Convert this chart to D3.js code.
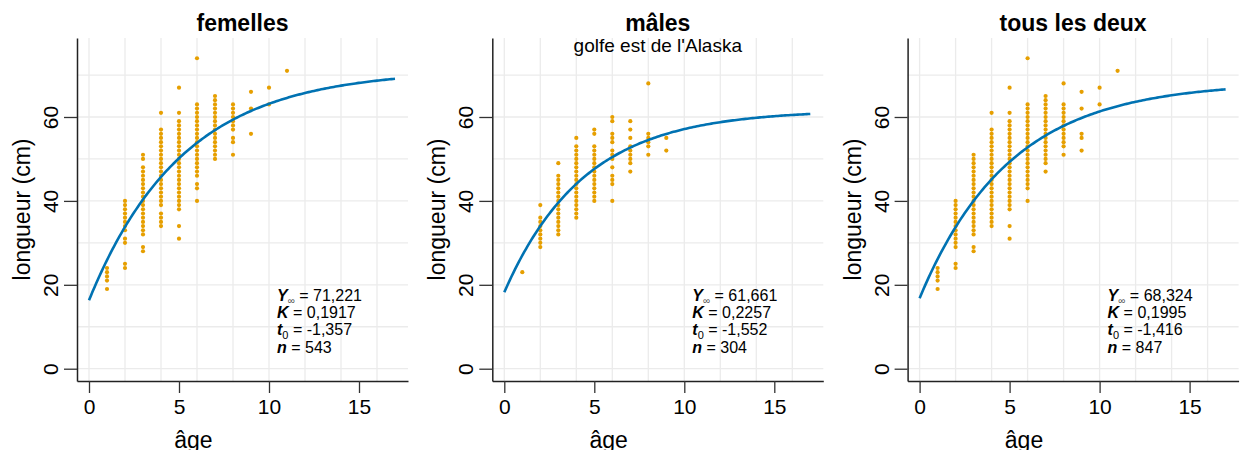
<!DOCTYPE html>
<html>
<head>
<meta charset="utf-8">
<script src="https://cdn.jsdelivr.net/npm/d3@7"></script>
<style>
body { margin: 0; background: #fff; }
text { font-family: "Liberation Sans", Arial, sans-serif; }
</style>
</head>
<body>
<svg id="chart" width="1243" height="450"></svg>
<script>
// ages (années) et longueurs observées (cm) pour chaque âge
var ages = [1, 2, 3, 4, 5, 6, 7, 8, 9, 10, 11];

var femelles = [
  [19, 21, 22, 23, 24],
  [24, 25, 30, 31, 33, 34, 35, 36, 37, 38, 39, 40],
  [28, 29, 32, 33, 34, 35, 36, 37, 38, 39, 40, 41, 42, 43, 44, 45, 46, 47, 48, 50, 51],
  [34, 35, 36, 37, 39, 40, 41, 42, 43, 44, 45, 46, 47, 48, 49, 50, 51, 52, 53, 54, 55, 56, 57, 61],
  [31, 34, 38, 39, 40, 41, 42, 43, 44, 45, 46, 47, 48, 49, 50, 51, 52, 53, 54, 55, 56, 57, 58, 59, 61, 67],
  [40, 43, 44, 46, 47, 48, 49, 50, 51, 52, 53, 54, 55, 56, 57, 58, 59, 60, 61, 62, 63, 74],
  [50, 51, 52, 53, 54, 55, 56, 57, 58, 59, 60, 61, 62, 63, 64, 65],
  [51, 54, 55, 57, 58, 59, 60, 61, 62, 63],
  [56, 62, 66],
  [63, 67],
  [71]
];

var males = [
  [23],
  [29, 30, 31, 32, 33, 34, 35, 36, 39],
  [32, 33, 34, 35, 36, 37, 38, 39, 40, 41, 42, 43, 44, 45, 46, 49],
  [36, 37, 38, 39, 40, 41, 42, 43, 44, 45, 46, 47, 48, 49, 50, 51, 52, 53, 55],
  [40, 41, 42, 43, 44, 45, 46, 47, 48, 49, 50, 51, 52, 53, 56, 57],
  [40, 44, 45, 46, 48, 50, 51, 52, 54, 55, 56, 59, 60],
  [47, 49, 50, 51, 52, 53, 55, 57, 59],
  [51, 53, 54, 55, 56, 68],
  [52, 55],
  [],
  []
];

var tous = [
  [19, 21, 22, 23, 24],
  [24, 25, 29, 30, 31, 32, 33, 34, 35, 36, 37, 38, 39, 40],
  [28, 29, 32, 33, 34, 35, 36, 37, 38, 39, 40, 41, 42, 43, 44, 45, 46, 47, 48, 49, 50, 51],
  [34, 35, 36, 37, 38, 39, 40, 41, 42, 43, 44, 45, 46, 47, 48, 49, 50, 51, 52, 53, 54, 55, 56, 57, 61],
  [31, 34, 38, 39, 40, 41, 42, 43, 44, 45, 46, 47, 48, 49, 50, 51, 52, 53, 54, 55, 56, 57, 58, 59, 61, 67],
  [40, 43, 44, 45, 46, 47, 48, 49, 50, 51, 52, 53, 54, 55, 56, 57, 58, 59, 60, 61, 62, 63, 74],
  [47, 49, 50, 51, 52, 53, 54, 55, 56, 57, 58, 59, 60, 61, 62, 63, 64, 65],
  [51, 53, 54, 55, 56, 57, 58, 59, 60, 61, 62, 63, 68],
  [52, 55, 56, 62, 66],
  [63, 67],
  [71]
];

var titres = ["femelles", "mâles", "tous les deux"];
var sousTitres = ["", "golfe est de l'Alaska", ""];

// paramètres von Bertalanffy
var Yinf = [71.221, 61.661, 68.324];
var Kval = [0.1917, 0.2257, 0.1995];
var t0val = [-1.357, -1.552, -1.416];
var nval = [543, 304, 847];

var xTicks = [0, 5, 10, 15];
var yTicks = [0, 20, 40, 60];
var xGrille = [0, 2, 4, 6, 8, 10, 12, 14, 16];
var yGrille = [0, 10, 20, 30, 40, 50, 60, 70];

var orange = "#E69F00";
var bleu = "#0072B2";

var fr = d3.formatLocale({decimal: ",", thousands: " ", grouping: [3], currency: ["", "€"], minus: "-"});

var svg = d3.select("#chart");
svg.append("rect").attr("width", 1243).attr("height", 450).attr("fill", "#fff");

var panelLeft = [77, 492.3, 907.6];
var plotW = 331, plotTop = 38, plotBottom = 381;

var makethepanel = function(i, data) {
  var L = panelLeft[i];
  var g = svg.append("g");

  var x = d3.scaleLinear().domain([-12 / 18, 319 / 18]).range([L, L + plotW]);
  var y = d3.scaleLinear().domain([-2.93, 78.83]).range([plotBottom, plotTop]);

  // grille
  g.selectAll(".gx").data(xGrille).enter().append("line")
    .attr("x1", function(d) { return x(d); }).attr("x2", function(d) { return x(d); })
    .attr("y1", plotTop).attr("y2", plotBottom)
    .attr("stroke", "#ebebeb").attr("stroke-width", 1.3);
  g.selectAll(".gy").data(yGrille).enter().append("line")
    .attr("x1", L).attr("x2", L + plotW)
    .attr("y1", function(d) { return y(d); }).attr("y2", function(d) { return y(d); })
    .attr("stroke", "#ebebeb").attr("stroke-width", 1.3);

  // titres
  var cx = L + plotW / 2;
  g.append("text").attr("x", cx).attr("y", 31).attr("text-anchor", "middle")
    .attr("font-size", 23).attr("font-weight", "bold").text(titres[i]);
  if (sousTitres[i]) {
    g.append("text").attr("x", cx).attr("y", 52).attr("text-anchor", "middle")
      .attr("font-size", 19).text(sousTitres[i]);
  }

  // points
  var pts = [];
  for (var a = 0; a < ages.length; a++) {
    for (var j = 0; j < data[a].length; j++) {
      pts.push({age: ages[a], lon: data[a][j]});
    }
  }
  g.selectAll(".pt").data(pts).enter().append("circle")
    .attr("cx", function(d) { return x(d.age); })
    .attr("cy", function(d) { return y(d.lon); })
    .attr("r", 2.1)
    .attr("fill", orange);

  // courbe de croissance
  var courbe = d3.range(0, 17.01, 0.1).map(function(t) {
    return {t: t, l: Yinf[i] * (1 - Math.exp(-Kval[i] * (t - t0val[i])))};
  });
  g.append("path").datum(courbe)
    .attr("fill", "none").attr("stroke", bleu).attr("stroke-width", 2.6)
    .attr("d", d3.line().x(function(d) { return x(d.t); }).y(function(d) { return y(d.l); }));

  // axes
  var ax = g.append("g").attr("transform", "translate(0," + plotBottom + ")")
    .call(d3.axisBottom(x).tickValues(xTicks).tickSize(12).tickSizeOuter(0).tickPadding(6));
  ax.select(".domain").attr("stroke", "#222").attr("stroke-width", 1.5);
  ax.selectAll(".tick line").attr("stroke", "#333").attr("stroke-width", 1.3);
  ax.selectAll("text").attr("font-size", 21).attr("fill", "#000")
    .attr("font-family", "Liberation Sans, Arial, sans-serif");

  var ay = g.append("g").attr("transform", "translate(" + L + ",0)")
    .call(d3.axisLeft(y).tickValues(yTicks).tickSize(13).tickSizeOuter(0));
  ay.select(".domain").attr("stroke", "#222").attr("stroke-width", 1.5);
  ay.selectAll(".tick line").attr("stroke", "#333").attr("stroke-width", 1.3);
  ay.selectAll(".tick text").attr("font-size", 21).attr("fill", "#000")
    .attr("font-family", "Liberation Sans, Arial, sans-serif")
    .attr("text-anchor", "middle")
    .attr("transform", "rotate(-90)")
    .attr("x", 0).attr("y", -19).attr("dy", 0);

  g.append("text").attr("transform", "translate(" + (L - 55) + "," + ((plotTop + plotBottom) / 2) + ") rotate(-90)")
    .attr("text-anchor", "middle").attr("dy", "0.35em").attr("font-size", 23).text("longueur (cm)");
  g.append("text").attr("x", x(5.8)).attr("y", 448).attr("text-anchor", "middle")
    .attr("font-size", 23).text("âge");

  // annotation
  var ax0 = L + 200, fs = 16;
  var t1 = g.append("text").attr("x", ax0).attr("y", 301).attr("font-size", fs);
  t1.append("tspan").attr("font-weight", "bold").attr("font-style", "italic").text("Y");
  t1.append("tspan").attr("font-size", 10).attr("dy", 3).attr("fill", "#555").text("∞");
  t1.append("tspan").attr("dy", -3).text(" = " + fr.format(".3f")(Yinf[i]));

  var t2 = g.append("text").attr("x", ax0).attr("y", 318).attr("font-size", fs);
  t2.append("tspan").attr("font-weight", "bold").attr("font-style", "italic").text("K");
  t2.append("tspan").text(" = " + fr.format(".4f")(Kval[i]));

  var t3 = g.append("text").attr("x", ax0).attr("y", 335).attr("font-size", fs);
  t3.append("tspan").attr("font-weight", "bold").attr("font-style", "italic").text("t");
  t3.append("tspan").attr("font-size", 11).attr("dy", 4).text("0");
  t3.append("tspan").attr("dy", -4).text(" = " + fr.format(".3f")(t0val[i]));

  var t4 = g.append("text").attr("x", ax0).attr("y", 353).attr("font-size", fs);
  t4.append("tspan").attr("font-weight", "bold").attr("font-style", "italic").text("n");
  t4.append("tspan").text(" = " + nval[i]);
};

makethepanel(0, femelles);
makethepanel(1, males);
makethepanel(2, tous);
</script>
</body>
</html>
